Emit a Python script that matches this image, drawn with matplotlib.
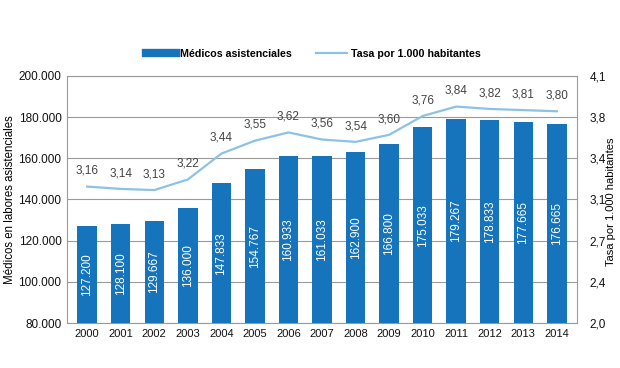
import matplotlib
matplotlib.use("Agg")
import matplotlib.pyplot as plt
import numpy as np
from matplotlib.lines import Line2D

years = ["2000","2001","2002","2003","2004","2005","2006","2007","2008","2009","2010","2011","2012","2013","2014"]
medicos = [127200,128100,129667,136000,147833,154767,160933,161033,162900,166800,175033,179267,178833,177665,176665]
medicos_labels = ["127.200","128.100","129.667","136.000","147.833","154.767","160.933","161.033","162.900","166.800","175.033","179.267","178.833","177.665","176.665"]
tasa = [3.16,3.14,3.13,3.22,3.44,3.55,3.62,3.56,3.54,3.60,3.76,3.84,3.82,3.81,3.80]
left_ticks = [80000,100000,120000,140000,160000,180000,200000]
left_labels = ["80.000","100.000","120.000","140.000","160.000","180.000","200.000"]
right_ticks = [2.0,2.35,2.7,3.05,3.4,3.75,4.1]
right_labels = ["2,0","2,4","2,7","3,1","3,4","3,8","4,1"]

bar_color = "#1574bb"
line_color = "#8cc2e6"

plt.rcParams['font.family'] = ['Liberation Sans', 'DejaVu Sans']

fig = plt.figure(figsize=(6.2, 3.68), dpi=100)
ax = fig.add_axes([67/620, 1-323/368, (577-67)/620, (323-76)/368])
x = np.arange(len(years))
ax.bar(x, medicos, width=0.58, color=bar_color, zorder=3)
ax.set_ylim(80000, 200000)
ax.set_xlim(-0.6, len(years)-0.4)
ax.set_yticks(left_ticks)
ax.set_yticklabels(left_labels, fontsize=8.5, color="#111111")
ax.set_xticks(x)
ax.set_xticklabels(years, fontsize=8, color="#111111")
ax.yaxis.grid(True, color="#9a9a9a", linewidth=0.8, zorder=0)
ax.tick_params(length=0, pad=4)
for s in ax.spines.values():
    s.set_color("#9a9a9a")
    s.set_linewidth(0.8)
fig.text(10/620, 1-200/368, "Médicos en labores asistenciales", fontsize=8.3,
         rotation=90, ha="center", va="center")

for xi, v, lab in zip(x, medicos, medicos_labels):
    ax.text(xi, (80000+v)/2, lab, rotation=90, ha="center", va="center",
            color="white", fontsize=8.5, zorder=4)

ax2 = ax.twinx()
ax2.plot(x, tasa, color=line_color, linewidth=1.6, zorder=5)
ax2.set_ylim(2.0, 4.1)
ax2.set_yticks(right_ticks)
ax2.set_yticklabels(right_labels, fontsize=8.5, color="#111111")
ax2.tick_params(length=0, pad=9)
for s in ax2.spines.values():
    s.set_visible(False)
fig.text(611/620, 1-202/368, "Tasa por 1.000 habitantes", fontsize=8,
         rotation=90, ha="center", va="center")
for xi, t in zip(x, tasa):
    ax2.annotate(f"{t:.2f}".replace(".", ","), (xi, t), xytext=(0, 7),
                 textcoords="offset points", ha="center", va="bottom",
                 fontsize=8.5, color="#444444")

handles = [Line2D([0],[0], color=bar_color, linewidth=6), Line2D([0],[0], color=line_color, linewidth=1.6)]
fig.legend(handles, ["Médicos asistenciales", "Tasa por 1.000 habitantes"], loc="center",
           bbox_to_anchor=(313/620, 1-54/368), ncol=2, frameon=False,
           handlelength=2.85, handletextpad=0.35, columnspacing=2.3,
           prop={'weight': 'bold', 'size': 7.7})

fig.savefig("out.png", dpi=100)
